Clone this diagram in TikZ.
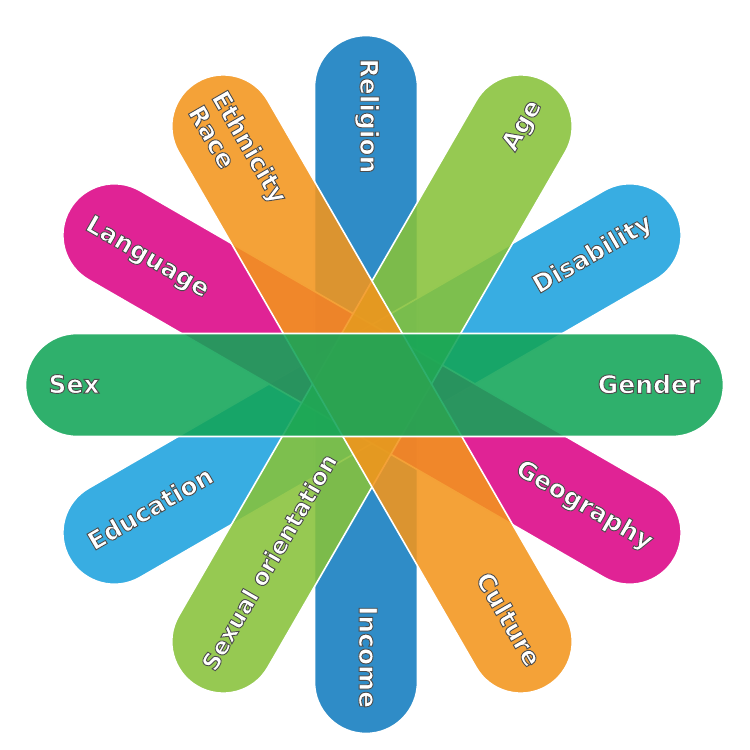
\documentclass[tikz,border=0pt]{standalone}
\usepackage{fontspec}
\setmainfont{DejaVu Sans}
\usetikzlibrary{shapes.misc}
\definecolor{cBlue}{RGB}{18,124,191}
\definecolor{cLBlue}{RGB}{28,162,222}
\definecolor{cMag}{RGB}{220,5,134}
\definecolor{cOrange}{RGB}{243,149,28}
\definecolor{cLGreen}{RGB}{135,194,58}
\definecolor{cGreen}{RGB}{18,165,88}
\newcommand{\lbl}[1]{\special{pdf:literal q 2 Tr 0.9 w 0.3 0.3 0.3 RG}#1\special{pdf:literal Q}}
\begin{document}
\begin{tikzpicture}[x=1pt,y=-1pt,
  bar/.style={rounded rectangle, minimum width=698pt, minimum height=103pt,
    inner sep=0pt, draw=white, line width=1.6pt, fill opacity=0.88},
  lab/.style={text=white, font=\fontsize{25}{25}\selectfont\bfseries, inner sep=0pt}]
\useasboundingbox (0,0) rectangle (750,750);
% bars, bottom to top
\node[bar, fill=cBlue, rotate=90] (bReligion) at (366,384.5) {};
\node[bar, fill=cLBlue, rotate=30] (bDisability) at (372,384) {};
\node[bar, fill=cMag, rotate=-30] (bLanguage) at (372,384) {};
\node[bar, fill=cLGreen, rotate=60] (bAge) at (372,384) {};
\node[bar, fill=cOrange, rotate=-60] (bEthnicity) at (372,384) {};
\node[bar, fill=cGreen] (bSex) at (374.5,385) {};
% labels
\node[lab, rotate=-90] (tReligion) at (367,116) {\lbl{Religion}};
\node[lab, rotate=-90] (tIncome) at (368,657) {\lbl{Income}};
\node[lab, rotate=-60] (tEthnicity) at (248,148) {\lbl{Ethnicity}};
\node[lab, rotate=-60] (tRace) at (212,137) {\lbl{Race}};
\node[lab, rotate=-60] (tCulture) at (509,619) {\lbl{Culture}};
\node[lab, rotate=60] (tAge) at (523,126) {\lbl{Age}};
\node[lab, rotate=60, font=\fontsize{23.6}{25}\selectfont\bfseries] (tSexual) at (269,562) {\lbl{Sexual orientation}};
\node[lab, rotate=30] (tDisability) at (593,255) {\lbl{Disability}};
\node[lab, rotate=30] (tEducation) at (150,508) {\lbl{Education}};
\node[lab, rotate=-30] (tLanguage) at (147,258) {\lbl{Language}};
\node[lab, rotate=-30] (tGeography) at (584,506) {\lbl{Geography}};
\node[lab] (tSex) at (74,384) {\lbl{Sex}};
\node[lab] (tGender) at (649,384) {\lbl{Gender}};
\end{tikzpicture}
\end{document}
